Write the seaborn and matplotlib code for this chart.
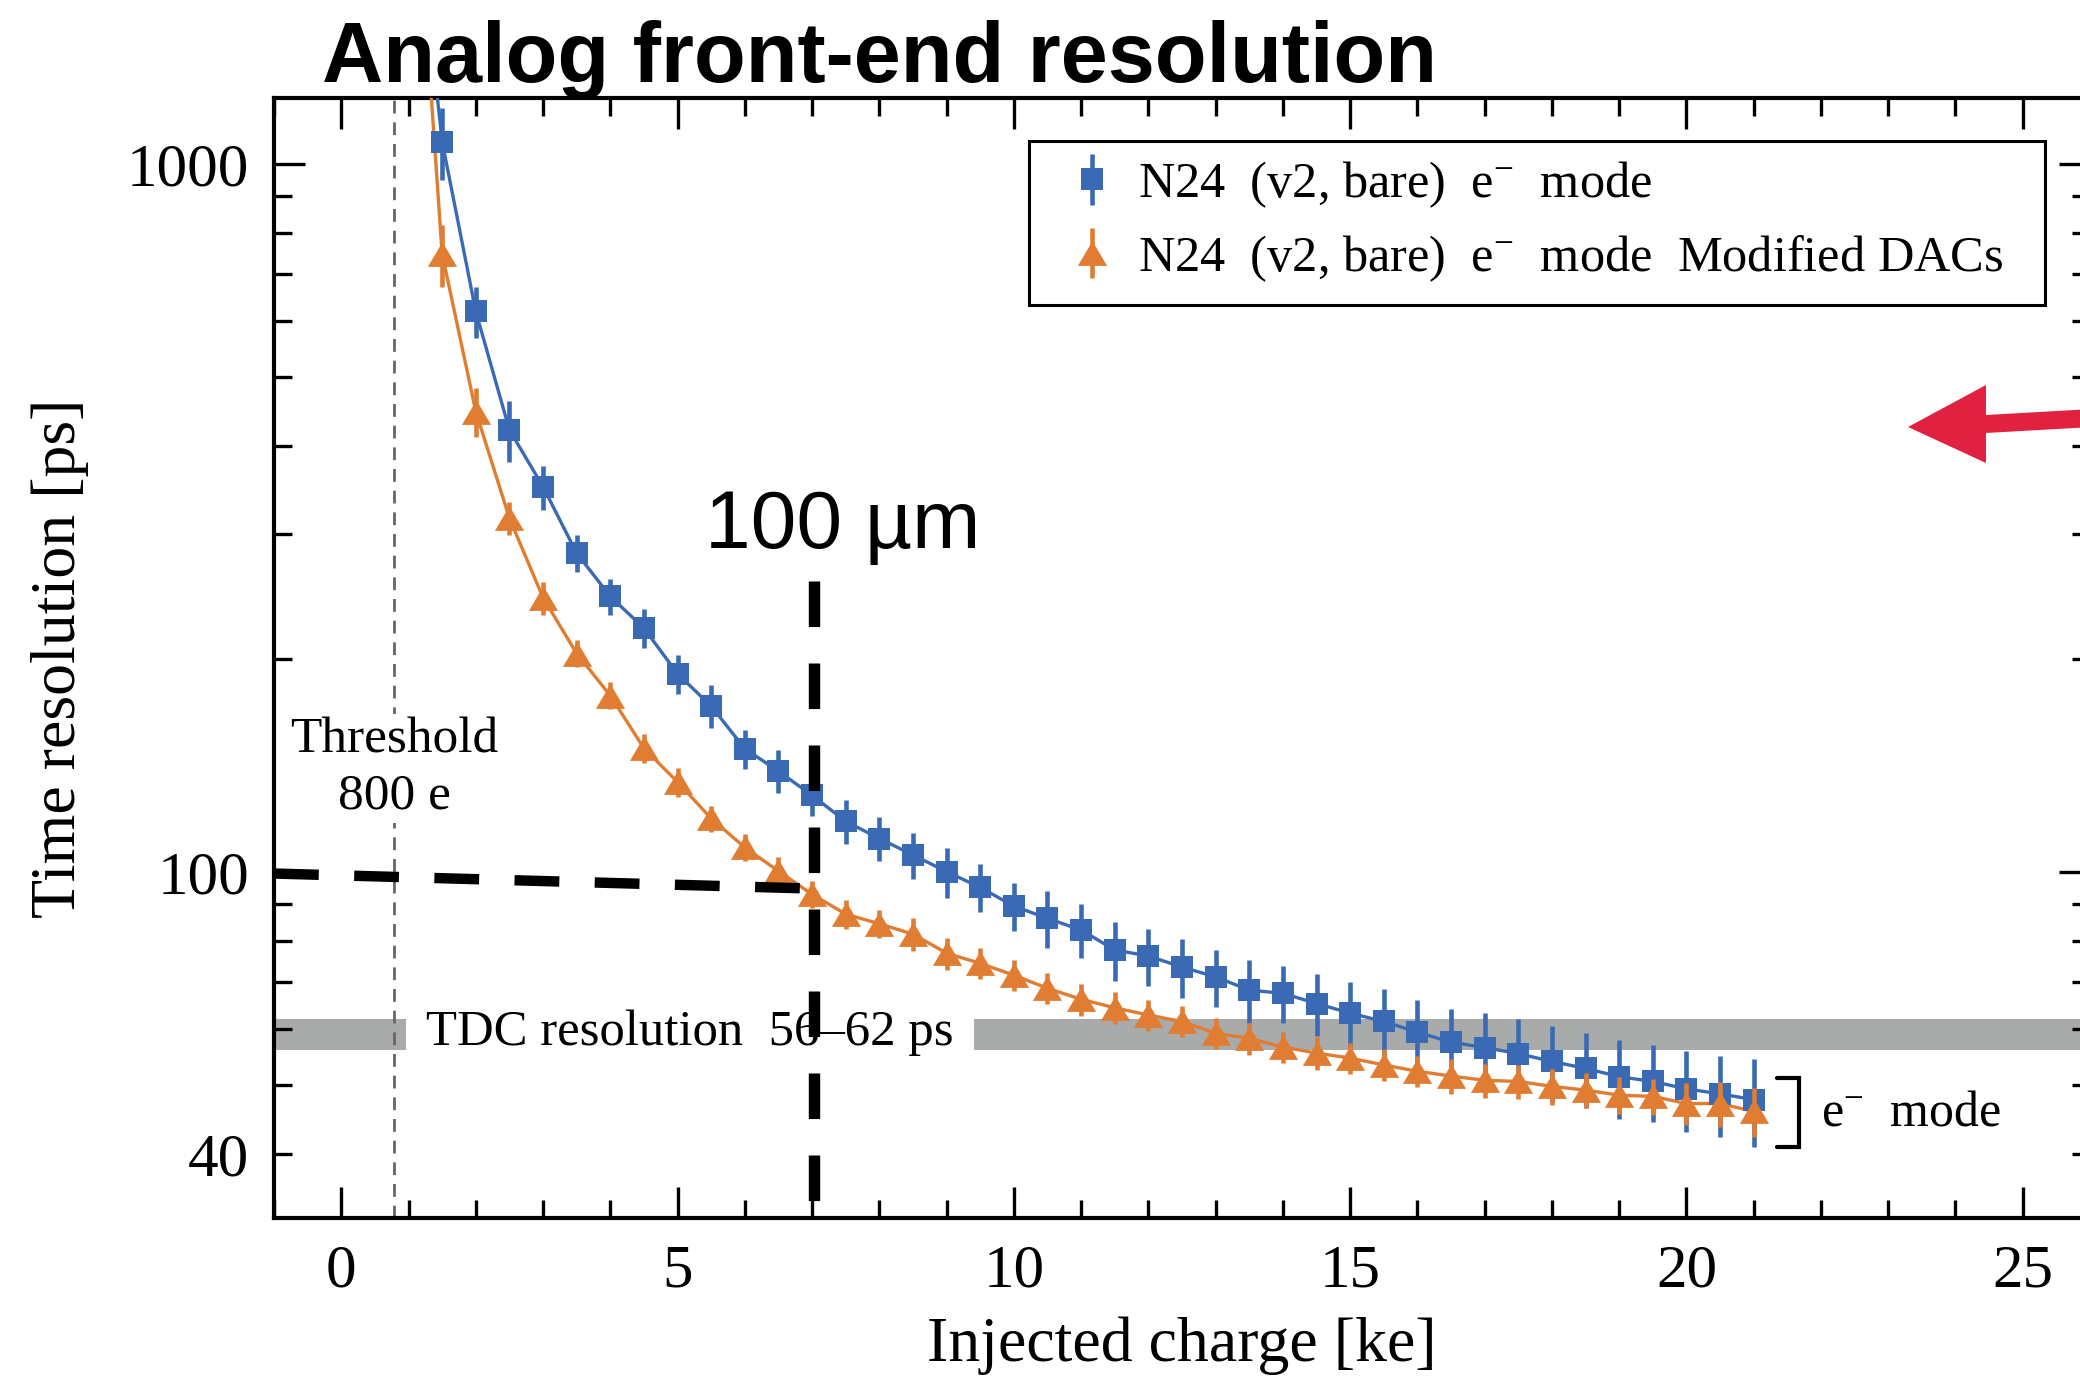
import numpy as np
import pandas as pd
import matplotlib
matplotlib.use("Agg")
import matplotlib.pyplot as plt
import seaborn as sns
from matplotlib.ticker import FixedLocator, MultipleLocator, FuncFormatter
from matplotlib.patches import Polygon, Rectangle
from matplotlib.path import Path

# ---------------- data ----------------
charge_ke = [1.5, 2.0, 2.5, 3.0, 3.5, 4.0, 4.5, 5.0, 5.5, 6.0,
             6.5, 7.0, 7.5, 8.0, 8.5, 9.0, 9.5, 10.0, 10.5, 11.0,
             11.5, 12.0, 12.5, 13.0, 13.5, 14.0, 14.5, 15.0, 15.5, 16.0,
             16.5, 17.0, 17.5, 18.0, 18.5, 19.0, 19.5, 20.0, 20.5, 21.0]

blue_ps = [1075, 619, 421, 350, 282, 245, 221, 190.5, 171.5, 149.3,
           138.8, 128.3, 117.9, 111.5, 105.7, 100.1, 95.1, 89.5, 86.0, 82.8,
           77.6, 76.1, 73.4, 71.1, 68.1, 67.4, 65.2, 63.2, 61.5, 59.4,
           57.5, 56.5, 55.4, 54.0, 52.8, 51.4, 50.6, 49.4, 48.6, 47.7]
blue_err = [125, 52, 42, 25, 17, 14.5, 14, 12, 12, 9.5,
            9.7, 8.5, 8.3, 8.0, 8.0, 8.1, 7.4, 7.0, 7.9, 7.3,
            7.4, 7.1, 7.0, 6.6, 6.9, 6.2, 6.5, 6.7, 6.9, 6.6,
            6.5, 6.8, 6.7, 6.7, 6.4, 6.6, 6.3, 6.5, 6.4, 6.8]

orange_ps = [746, 447, 316, 244, 203.5, 177.5, 149.5, 134, 119, 108.3,
             100.3, 93, 87.2, 84.5, 81.7, 76.8, 74.3, 71.5, 68.5, 66.1,
             64.3, 62.8, 61.5, 59.2, 58.2, 56.6, 55.5, 54.6, 53.4, 52.3,
             51.5, 50.8, 50.6, 49.8, 49.2, 48.4, 48.2, 47.1, 47.1, 45.9]
orange_err = [75, 35, 17, 13, 9, 7.8, 7, 6.3, 5.0, 4.8,
              4.7, 4.1, 4.0, 3.9, 4.3, 4.0, 3.8, 3.6, 3.5, 3.4,
              3.3, 3.2, 3.1, 3.0, 3.0, 2.9, 2.9, 2.8, 2.8, 2.6,
              2.9, 2.8, 2.8, 2.9, 2.8, 2.9, 2.8, 3.2, 3.4, 3.6]

# where the smooth curves leave the top of the frame
blue_curve_top = [1.43, 1239]
orange_curve_top = [1.34, 1239]

series_labels = [r"N24  (v2, bare)  e$^{-}$  mode",
                 r"N24  (v2, bare)  e$^{-}$  mode  Modified DACs"]

tdc_band_ps = [56, 62]
threshold_ke = 0.78
x_ticks = [0, 5, 10, 15, 20, 25]
y_major = [100, 1000]
y_minor = [40, 50, 60, 70, 80, 90, 200, 300, 400, 500, 600, 700, 800, 900]

# ---------------- style ----------------
sns.set_theme(style="ticks")
plt.rcParams["font.family"] = ["Liberation Serif", "DejaVu Serif"]
plt.rcParams["mathtext.fontset"] = "custom"
plt.rcParams["mathtext.rm"] = "Liberation Serif"
plt.rcParams["mathtext.it"] = "Liberation Serif:italic"
plt.rcParams["axes.linewidth"] = 3.0
plt.rcParams["text.color"] = "black"
plt.rcParams["axes.labelcolor"] = "black"
plt.rcParams["xtick.color"] = "black"
plt.rcParams["ytick.color"] = "black"

BLUE = "#3A6AB4"
ORANGE = "#E07D32"
W, H = 2080, 1378

fig = plt.figure(figsize=(W / 100, H / 100), dpi=100)
fig.patch.set_facecolor("white")
ax = fig.add_axes([274 / W, (H - 1218) / H, (2090 - 274) / W, (1218 - 98) / H])
ax.set_facecolor("white")
ax.set_yscale("log")
ax.set_xlim(-1, 26)
ax.set_ylim(32.46, 1239)

# connecting curves via seaborn
df = pd.DataFrame({
    "charge": [blue_curve_top[0]] + charge_ke + [orange_curve_top[0]] + charge_ke,
    "res": [blue_curve_top[1]] + blue_ps + [orange_curve_top[1]] + orange_ps,
    "series": ["blue"] * (len(charge_ke) + 1) + ["orange"] * (len(charge_ke) + 1),
})
sns.lineplot(data=df, x="charge", y="res", hue="series",
             palette={"blue": BLUE, "orange": ORANGE}, linewidth=2.4,
             legend=False, ax=ax, zorder=3, estimator=None)

# TDC band
ax.axhspan(tdc_band_ps[0], tdc_band_ps[1], color="#A9ABAB", zorder=0.5, lw=0)

# threshold line
ax.axvline(threshold_ke, color="#666666", lw=2.0, ls=(0, (4.6, 3.2)), zorder=1)

tri = Path([(0, 0.85), (-1, -0.85), (1, -0.85), (0, 0.85)],
           [Path.MOVETO, Path.LINETO, Path.LINETO, Path.CLOSEPOLY])

eb_blue = ax.errorbar(charge_ke, blue_ps, yerr=blue_err, fmt="s", ms=16.5,
                      color=BLUE, ecolor=BLUE, elinewidth=3.3, capsize=0,
                      mew=0, zorder=4)
ax.errorbar(charge_ke, orange_ps, yerr=orange_err, fmt="none",
            ecolor=ORANGE, elinewidth=3.3, capsize=0, zorder=5)
ax.plot(charge_ke, orange_ps, ls="none", marker=tri, ms=21,
        color=ORANGE, mew=0, zorder=5.5)
eb_orange_leg = ax.errorbar([], [], yerr=[], fmt=" ", marker=tri, ms=21,
                            color=ORANGE, ecolor=ORANGE, elinewidth=3.3,
                            capsize=0, mew=0)

# 100 um guide lines (black, thick, dashed)
ax.plot([-1, 7.26], [99.5, 94.6], color="black", lw=7.5,
        ls=(0, (4.3, 3.4)), zorder=6, solid_capstyle="butt")
ax.plot([7.03, 7.03], [258, 32.46], color="black", lw=8.2,
        ls=(0, (4.0, 3.2)), zorder=6)

# texts
ax.text(0.79, 140, "Threshold\n800 e", ha="center", va="center",
        fontsize=37, linespacing=1.28, zorder=2,
        bbox=dict(boxstyle="square,pad=0.05", fc="white", ec="none"))
ax.text(1.26, 59.3, "TDC resolution  56\u201362 ps", ha="left", va="center",
        fontsize=36.5, zorder=2,
        bbox=dict(boxstyle="square,pad=0.4", fc="white", ec="none"))
ax.text(5.41, 287, "100 \u00b5m", ha="left", va="baseline",
        fontsize=59, family="Liberation Sans", zorder=7, color="black")
ax.text(22.0, 45.6, r"e$^{-}$  mode", ha="left", va="center", fontsize=36)
ax.plot([21.34, 21.67, 21.67, 21.34], [51.2, 51.2, 40.9, 40.9],
        color="black", lw=3, solid_joinstyle="miter", zorder=6)

fig.text(322 / W, (H - 82) / H, "Analog front-end resolution",
         ha="left", va="baseline", fontsize=61, fontweight="bold",
         family="Liberation Sans", color="black")

# red arrow (figure pixels, image y measured from top)
arrow_img = [(1908, 427), (1986, 385), (1986, 415), (2110, 408),
             (2110, 426), (1986, 433), (1986, 463)]
arrow = Polygon([(x / W, (H - y) / H) for x, y in arrow_img], closed=True,
                transform=fig.transFigure, fc="#E0213F", ec="none", zorder=10)
fig.add_artist(arrow)

# axes / ticks
ax.xaxis.set_major_locator(FixedLocator(x_ticks))
ax.xaxis.set_minor_locator(MultipleLocator(1))
ax.yaxis.set_major_locator(FixedLocator(y_major))
ax.yaxis.set_minor_locator(FixedLocator(y_minor))
ax.yaxis.set_major_formatter(FuncFormatter(lambda v, p: f"{v:g}"))
ax.yaxis.set_minor_formatter(FuncFormatter(lambda v, p: "40" if abs(v - 40) < 1e-6 else ""))
ax.tick_params(axis="both", which="major", direction="in", length=22, width=2.4,
               top=True, right=True, labelsize=44, colors="black")
ax.tick_params(axis="both", which="minor", direction="in", length=13, width=2.4,
               top=True, right=True, labelsize=44, colors="black")
ax.tick_params(axis="x", which="both", pad=19)
ax.tick_params(axis="y", which="both", pad=18)
for s in ax.spines.values():
    s.set_color("black")
    s.set_linewidth(3.0)

ax.set_xlabel("Injected charge [ke]", fontsize=46)
ax.set_ylabel("Time resolution [ps]", fontsize=46)
ax.xaxis.set_label_coords(0.5, -0.088)
ax.yaxis.set_label_coords(-0.102, 0.5)
ax.grid(False)

# legend: frame drawn separately, entries placed via legend
frame = Rectangle((1029 / W, (H - 305) / H), (2045 - 1029) / W, (305 - 141) / H,
                  transform=fig.transFigure, fc="white", ec="black", lw=2.2,
                  zorder=7.5)
ax.add_patch(frame)
fs_leg = 36.3
leg = ax.legend(handles=[eb_blue, eb_orange_leg], labels=series_labels,
                loc="upper left", bbox_to_anchor=(1031 / W, (H - 144) / H),
                bbox_transform=fig.transFigure,
                fontsize=fs_leg, frameon=False, borderpad=0.3, handlelength=1.82,
                handletextpad=0.0, labelspacing=0.46, borderaxespad=0)
leg.set_zorder(8)

fig.savefig("out.png", dpi=100)
